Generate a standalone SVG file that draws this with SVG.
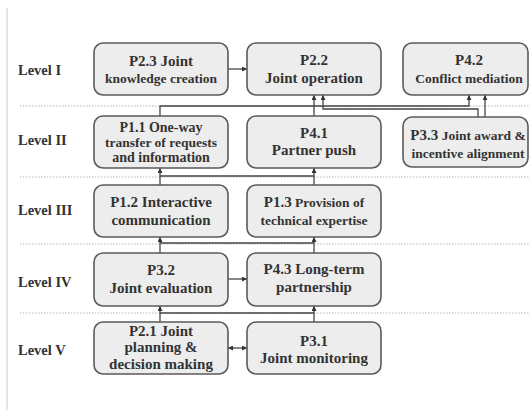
<svg xmlns="http://www.w3.org/2000/svg" width="530" height="410" viewBox="0 0 530 410">
<style>
.bx{fill:#ededed;stroke:#5a5a5a;stroke-width:1.6}
.t{font-family:"Liberation Serif","Times New Roman",serif;font-weight:bold;font-size:15px;fill:#333;text-anchor:middle}
.s{font-size:13.5px}
.m{font-size:14px}
.lv{font-family:"Liberation Serif","Times New Roman",serif;font-weight:bold;font-size:14.5px;fill:#333}
.sep{stroke:#b5b5b5;stroke-width:1;stroke-dasharray:1.5 1.5;fill:none}
.ln{stroke:#444;stroke-width:1.3;fill:none}
</style>
<defs>
<marker id="ah" viewBox="0 0 6 6" refX="6" refY="3" markerWidth="5" markerHeight="5" orient="auto-start-reverse" markerUnits="userSpaceOnUse">
<path d="M0,0 L6,3 L0,6 z" fill="#333"/>
</marker>
</defs>
<rect width="530" height="410" fill="#fff"/>
<line x1="7" y1="8" x2="7" y2="410" stroke="#c8c8c8" stroke-width="1"/>
<g id="separators">
<line class="sep" x1="20" y1="106" x2="530" y2="106"/>
<line class="sep" x1="20" y1="177" x2="530" y2="177"/>
<line class="sep" x1="20" y1="244" x2="530" y2="244"/>
<line class="sep" x1="20" y1="313" x2="530" y2="313"/>
</g>
<g id="levels">
<text class="lv" x="18" y="75">Level I</text>
<text class="lv" x="18" y="145">Level II</text>
<text class="lv" x="18" y="215">Level III</text>
<text class="lv" x="18" y="287">Level IV</text>
<text class="lv" x="18" y="355">Level V</text>
</g>
<g id="connectors">
<path class="ln" d="M228,69 H247" marker-end="url(#ah)"/>
<path class="ln" d="M160,116 V106 H469 V95" marker-end="url(#ah)"/>
<path class="ln" d="M314,116 V95" marker-end="url(#ah)"/>
<path class="ln" d="M478,117 V109 H323 V95" marker-end="url(#ah)"/>
<path class="ln" d="M485,117 V95" marker-end="url(#ah)"/>
<path class="ln" d="M160,185 V168" marker-end="url(#ah)"/>
<path class="ln" d="M314,185 V168" marker-end="url(#ah)"/>
<path class="ln" d="M160,176 H314"/>
<path class="ln" d="M160,253 V237" marker-end="url(#ah)"/>
<path class="ln" d="M314,253 V237" marker-end="url(#ah)"/>
<path class="ln" d="M160,243 H314"/>
<path class="ln" d="M228,279 H247" marker-end="url(#ah)"/>
<path class="ln" d="M160,322 V306" marker-end="url(#ah)"/>
<path class="ln" d="M314,322 V306" marker-end="url(#ah)"/>
<path class="ln" d="M160,313 H314"/>
<path class="ln" d="M228,348 H247" marker-start="url(#ah)" marker-end="url(#ah)"/>
</g>
<g id="P2.3"><rect class="bx" x="94" y="43" width="134" height="52" rx="9"/>
<text class="t" x="161" y="66">P2.3 Joint</text><text class="t s" x="161" y="83">knowledge creation</text></g>
<g id="P2.2"><rect class="bx" x="247" y="43" width="134" height="52" rx="9"/>
<text class="t" x="314" y="65">P2.2</text><text class="t" x="314" y="83">Joint operation</text></g>
<g id="P4.2"><rect class="bx" x="403" y="43" width="125" height="52" rx="9"/>
<text class="t" x="469" y="65">P4.2</text><text class="t s" x="469" y="83">Conflict mediation</text></g>
<g id="P1.1"><rect class="bx" x="94" y="116" width="134" height="52" rx="9"/>
<text class="t m" x="161" y="132">P1.1 One-way</text><text class="t s" x="161" y="147">transfer of requests</text><text class="t m" x="161" y="162">and information</text></g>
<g id="P4.1"><rect class="bx" x="247" y="116" width="134" height="52" rx="9"/>
<text class="t" x="314" y="138">P4.1</text><text class="t" x="314" y="155">Partner push</text></g>
<g id="P3.3"><rect class="bx" x="403" y="117" width="125" height="50" rx="9"/>
<text class="t" x="468" y="140">P3.3<tspan class="s"> Joint award &amp;</tspan></text><text class="t s" x="468" y="158">incentive alignment</text></g>
<g id="P1.2"><rect class="bx" x="94" y="185" width="134" height="52" rx="9"/>
<text class="t" x="161" y="207">P1.2 Interactive</text><text class="t" x="161" y="225">communication</text></g>
<g id="P1.3"><rect class="bx" x="247" y="185" width="134" height="52" rx="9"/>
<text class="t" x="314" y="207">P1.3<tspan class="s"> Provision of</tspan></text><text class="t s" x="314" y="225">technical expertise</text></g>
<g id="P3.2"><rect class="bx" x="94" y="253" width="134" height="53" rx="9"/>
<text class="t" x="161" y="275">P3.2</text><text class="t" x="161" y="293">Joint evaluation</text></g>
<g id="P4.3"><rect class="bx" x="247" y="253" width="134" height="53" rx="9"/>
<text class="t" x="314" y="274">P4.3 Long-term</text><text class="t" x="314" y="292">partnership</text></g>
<g id="P2.1"><rect class="bx" x="94" y="322" width="134" height="52" rx="9"/>
<text class="t" x="161" y="336">P2.1 Joint</text><text class="t" x="161" y="352">planning &amp;</text><text class="t" x="161" y="369">decision making</text></g>
<g id="P3.1"><rect class="bx" x="247" y="322" width="134" height="52" rx="9"/>
<text class="t" x="314" y="346">P3.1</text><text class="t" x="314" y="363">Joint monitoring</text></g>
</svg>
